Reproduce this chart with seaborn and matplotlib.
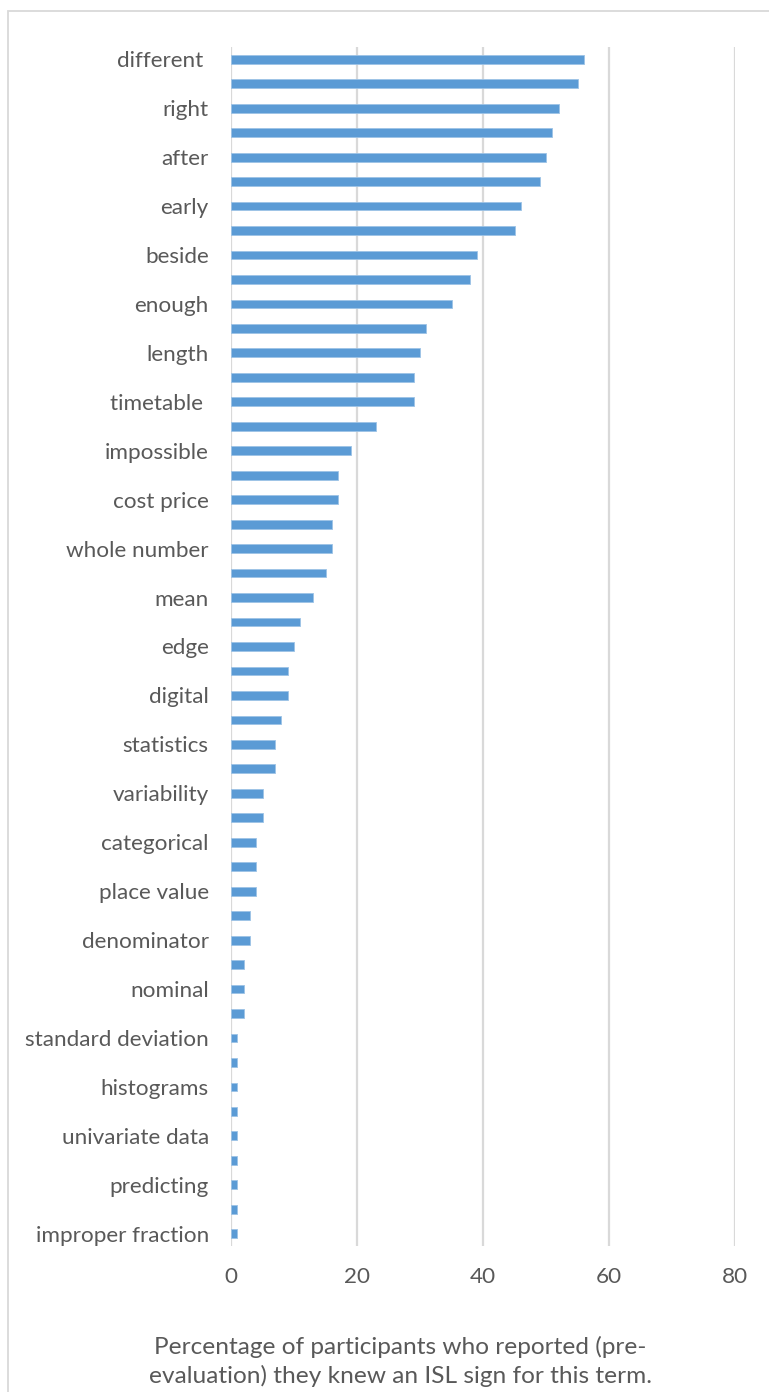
import matplotlib
matplotlib.use("Agg")
import matplotlib.pyplot as plt
import seaborn as sns
import pandas as pd
from matplotlib.patches import Rectangle

# Terms ordered top to bottom; every other term's label is hidden in the source chart
tick_labels = [
    "different ", "", "right", "", "after", "", "early", "", "beside", "",
    "enough", "", "length", "", "timetable ", "", "impossible", "", "cost price", "",
    "whole number", "", "mean", "", "edge", "", "digital", "", "statistics", "",
    "variability", "", "categorical", "", "place value", "", "denominator", "", "nominal", "",
    "standard deviation", "", "histograms", "", "univariate data", "", "predicting", "",
    "improper fraction",
]
values = [
    56, 55, 52, 51, 50, 49, 46, 45, 39, 38,
    35, 31, 30, 29, 29, 23, 19, 17, 17, 16,
    16, 15, 13, 11, 10, 9, 9, 8, 7, 7,
    5, 5, 4, 4, 4, 3, 3, 2, 2, 2,
    1, 1, 1, 1, 1, 1, 1, 1, 1,
]
x_ticks = [0, 20, 40, 60, 80]
x_label = "Percentage of participants who reported (pre-\nevaluation) they knew an ISL sign for this term."

df = pd.DataFrame({"rank": list(range(len(values))), "value": values})

sns.set_theme(style="white")
plt.rcParams["font.family"] = ["Lato", "DejaVu Sans"]

W, H = 769, 1392
fig = plt.figure(figsize=(W / 100, H / 100), dpi=100)
ax = fig.add_axes([231 / W, 1 - 1246 / H, (735 - 231) / W, (1246 - 47) / H])

sns.barplot(data=df, x="value", y="rank", orient="h", color="#5B9BD5",
            saturation=1, width=0.36, edgecolor="#9DC3E6", linewidth=0.6, ax=ax)

ax.set_xlim(0, 80)
ax.set_ylim(len(values) - 0.5, -0.5)
ax.set_xticks(x_ticks)
ax.set_xticklabels([str(t) for t in x_ticks])
ax.set_yticks(range(len(values)))
ax.set_yticklabels(tick_labels)
ax.set_xlabel("")
ax.set_ylabel("")
ax.xaxis.grid(True, color="#D9D9D9", linewidth=1.6)
ax.set_axisbelow(True)
for s in ax.spines.values():
    s.set_visible(False)
ax.tick_params(axis="both", length=0, colors="#595959", labelsize=16.2)
ax.tick_params(axis="y", pad=16)
ax.tick_params(axis="x", pad=15)

fig.text(400 / W, 1 - 1361 / H, x_label, ha="center", va="center",
         fontsize=17.6, color="#595959", linespacing=1.38)

fig.patches.append(Rectangle((8 / W, -0.1), 1.2, 1 - 11 / H + 0.1,
                             transform=fig.transFigure, fill=False,
                             edgecolor="#D9D9D9", linewidth=1.3))

fig.savefig("out.png", dpi=100)
